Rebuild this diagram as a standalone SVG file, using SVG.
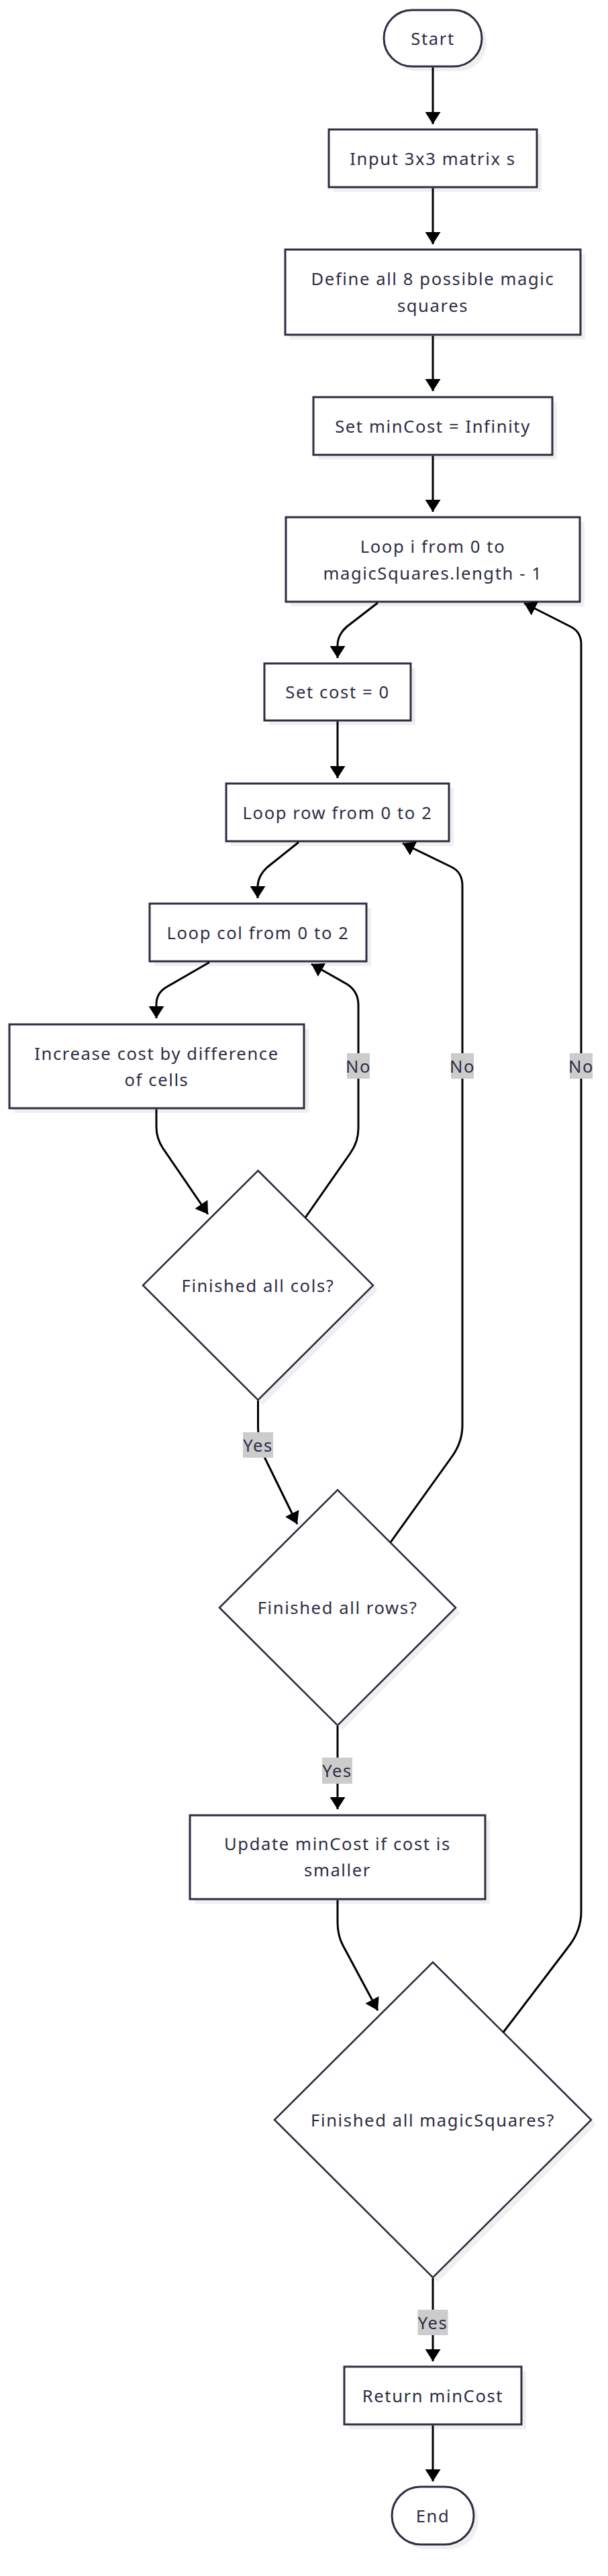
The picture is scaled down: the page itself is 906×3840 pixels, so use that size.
<svg xmlns="http://www.w3.org/2000/svg" width="906" height="3840" viewBox="0 0 906 3840">
<defs>
<marker id="arrow" viewBox="0 0 18 23" refX="18" refY="11.5" markerWidth="18" markerHeight="23" markerUnits="userSpaceOnUse" orient="auto"><path d="M0,0 L18,11.5 L0,23 Z" fill="#000"/></marker>
</defs>
<style>
.shape{fill:#fff;stroke:#2d2d44;stroke-width:3}
.dia{fill:#fff;stroke:#2d2d44;stroke-width:2.6}
.shadow{fill:#efefef}
.t{font-family:"Noto Sans","Open Sans",sans-serif;font-size:25.6px;letter-spacing:1.6px;fill:#2d2d44;text-anchor:middle;dominant-baseline:central}
.edge{fill:none;stroke:#000;stroke-width:3;marker-end:url(#arrow)}
.lbl{fill:#cccccc}
</style>
<rect width="906" height="3840" fill="#fff"/>
<g id="start">
<rect class="shadow" x="579" y="22" width="146" height="84" rx="42"/>
<rect class="shape" x="572" y="15" width="146" height="84" rx="42"/>
<text class="t" x="645" y="57">Start</text>
</g>
<g id="input">
<rect class="shadow" x="497" y="200" width="310" height="86"/>
<rect class="shape" x="490" y="193" width="310" height="86"/>
<text class="t" x="645" y="236">Input 3x3 matrix s</text>
</g>
<g id="define">
<rect class="shadow" x="432" y="379" width="440" height="127"/>
<rect class="shape" x="425" y="372" width="440" height="127"/>
<text class="t" x="645" y="415.5">Define all 8 possible magic</text>
<text class="t" x="645" y="455.5">squares</text>
</g>
<g id="setMinCost">
<rect class="shadow" x="474" y="599" width="356" height="86"/>
<rect class="shape" x="467" y="592" width="356" height="86"/>
<text class="t" x="645" y="635">Set minCost = Infinity</text>
</g>
<g id="loopI">
<rect class="shadow" x="433" y="778" width="438" height="126"/>
<rect class="shape" x="426" y="771" width="438" height="126"/>
<text class="t" x="645" y="814">Loop i from 0 to</text>
<text class="t" x="645" y="854">magicSquares.length - 1</text>
</g>
<g id="setCost">
<rect class="shadow" x="401" y="996" width="218" height="85"/>
<rect class="shape" x="394" y="989" width="218" height="85"/>
<text class="t" x="503" y="1031.5">Set cost = 0</text>
</g>
<g id="loopRow">
<rect class="shadow" x="344" y="1175" width="332" height="86"/>
<rect class="shape" x="337" y="1168" width="332" height="86"/>
<text class="t" x="503" y="1211">Loop row from 0 to 2</text>
</g>
<g id="loopCol">
<rect class="shadow" x="230" y="1354" width="323" height="86"/>
<rect class="shape" x="223" y="1347" width="323" height="86"/>
<text class="t" x="384.5" y="1390">Loop col from 0 to 2</text>
</g>
<g id="increase">
<rect class="shadow" x="21" y="1534" width="439" height="125"/>
<rect class="shape" x="14" y="1527" width="439" height="125"/>
<text class="t" x="233.5" y="1570">Increase cost by difference</text>
<text class="t" x="233.5" y="1609">of cells</text>
</g>
<g id="colsDone">
<polygon class="shadow" points="391.5,1752 563,1923 391.5,2094 220,1923"/>
<polygon class="dia" points="384.5,1745 556,1916 384.5,2087 213,1916"/>
<text class="t" x="384.5" y="1916">Finished all cols?</text>
</g>
<g id="rowsDone">
<polygon class="shadow" points="510,2228 686,2403.5 510,2579 334,2403.5"/>
<polygon class="dia" points="503,2221 679,2396.5 503,2572 327,2396.5"/>
<text class="t" x="503" y="2396.5">Finished all rows?</text>
</g>
<g id="update">
<rect class="shadow" x="290" y="2713" width="440" height="125"/>
<rect class="shape" x="283" y="2706" width="440" height="125"/>
<text class="t" x="503" y="2748.5">Update minCost if cost is</text>
<text class="t" x="503" y="2787.5">smaller</text>
</g>
<g id="magicDone">
<polygon class="shadow" points="652,2932 888,3167 652,3402 416,3167"/>
<polygon class="dia" points="645,2925 881,3160 645,3395 409,3160"/>
<text class="t" x="645" y="3160">Finished all magicSquares?</text>
</g>
<g id="return">
<rect class="shadow" x="520" y="3535" width="264" height="86"/>
<rect class="shape" x="513" y="3528" width="264" height="86"/>
<text class="t" x="645" y="3571">Return minCost</text>
</g>
<g id="end">
<rect class="shadow" x="591" y="3714" width="122" height="86" rx="43"/>
<rect class="shape" x="584" y="3707" width="122" height="86" rx="43"/>
<text class="t" x="645" y="3750">End</text>
</g>
<g id="connectors">
<path class="edge" d="M645,100.5 L645,185"/>
<path class="edge" d="M645,280.5 L645,364"/>
<path class="edge" d="M645,500.5 L645,583"/>
<path class="edge" d="M645,679.5 L645,763"/>
<path class="edge" d="M563,898.5 L517,934 Q503,946 503,962 L503,981"/>
<path class="edge" d="M503,1075.5 L503,1160"/>
<path class="edge" d="M445,1255.5 L398,1293 Q384,1306 384,1322 L384,1339"/>
<path class="edge" d="M312,1434.5 L247,1472 Q233,1481 233,1497 L233,1518"/>
<path class="edge" d="M233,1653.5 L233,1680 Q233,1697 243,1712 L310,1810"/>
<path class="edge" d="M455,1815 L522,1719 Q534,1702 534,1682 L534,1498 Q534,1478 517,1467 L464,1437"/>
<path class="edge" d="M384.5,2088 L384.5,2128 Q384.5,2150 394,2172 L443,2272"/>
<path class="edge" d="M582,2299 L673,2172 Q689,2150 689,2125 L689,1320 Q689,1300 672,1292 L600,1257"/>
<path class="edge" d="M503,2573 L503,2697"/>
<path class="edge" d="M503,2832.5 L503,2865 Q503,2885 511,2900 L563,2997"/>
<path class="edge" d="M750,3029.5 L847,2902 Q866,2878 866,2850 L866,960 Q866,942 850,934 L781,899"/>
<path class="edge" d="M645,3396 L645,3520"/>
<path class="edge" d="M645,3615.5 L645,3699"/>
</g>
<g id="edge-labels">
<rect class="lbl" x="517" y="1570" width="34" height="38"/><text class="t" x="534" y="1589">No</text>
<rect class="lbl" x="672" y="1570" width="34" height="38"/><text class="t" x="689" y="1589">No</text>
<rect class="lbl" x="849" y="1570" width="34" height="38"/><text class="t" x="866" y="1589">No</text>
<rect class="lbl" x="362" y="2135" width="45" height="38"/><text class="t" x="384.5" y="2154">Yes</text>
<rect class="lbl" x="480" y="2620" width="45" height="39"/><text class="t" x="502.5" y="2639.5">Yes</text>
<rect class="lbl" x="622.5" y="3443" width="45" height="38"/><text class="t" x="645" y="3462">Yes</text>
</g>
</svg>
